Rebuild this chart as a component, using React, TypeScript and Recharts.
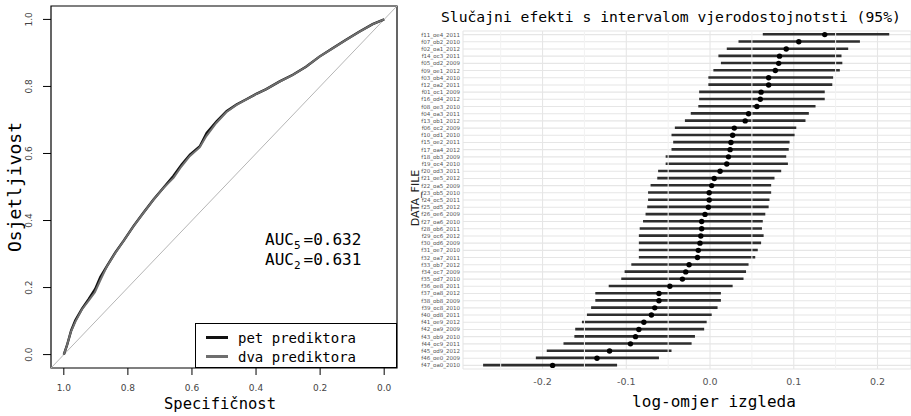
import {
  LineChart,
  Line,
  XAxis,
  YAxis,
  ReferenceLine,
  ReferenceArea,
  Legend,
  ComposedChart,
  Bar,
  CartesianGrid,
} from 'recharts';

// ROC krivulje (očitano s grafa)
const spec5 = [1.0, 0.99, 0.977, 0.964, 0.943, 0.922, 0.902, 0.886, 0.865, 0.839, 0.813, 0.782, 0.751, 0.72, 0.689, 0.658, 0.632, 0.606, 0.575, 0.554, 0.523, 0.492, 0.461, 0.43, 0.399, 0.368, 0.326, 0.285, 0.244, 0.202, 0.161, 0.119, 0.078, 0.036, 0.0];
const sens5 = [0.0, 0.028, 0.072, 0.102, 0.137, 0.166, 0.196, 0.231, 0.265, 0.305, 0.34, 0.384, 0.424, 0.463, 0.498, 0.533, 0.567, 0.597, 0.622, 0.661, 0.696, 0.726, 0.746, 0.762, 0.778, 0.792, 0.815, 0.835, 0.859, 0.889, 0.914, 0.939, 0.963, 0.986, 1.0];
const spec2 = [1.0, 0.991, 0.978, 0.963, 0.944, 0.923, 0.903, 0.885, 0.866, 0.84, 0.814, 0.783, 0.752, 0.721, 0.69, 0.657, 0.633, 0.607, 0.576, 0.555, 0.524, 0.493, 0.462, 0.431, 0.4, 0.369, 0.327, 0.286, 0.245, 0.203, 0.162, 0.12, 0.079, 0.037, 0.0];
const sens2 = [0.0, 0.025, 0.068, 0.1, 0.134, 0.16, 0.186, 0.224, 0.262, 0.302, 0.338, 0.382, 0.422, 0.461, 0.496, 0.528, 0.561, 0.592, 0.618, 0.652, 0.691, 0.723, 0.744, 0.761, 0.777, 0.791, 0.814, 0.834, 0.858, 0.888, 0.913, 0.938, 0.962, 0.985, 1.0];
const rocTicks = [0, 0.2, 0.4, 0.6, 0.8, 1.0];
const modelNames = ['pet prediktora', 'dva prediktora'];
const auc5 = '0.632';
const auc2 = '0.631';

// slučajni efekti po datoteci
const fileNames = [
  'f11_oe4_2011', 'f07_ob2_2010', 'f02_oa1_2012', 'f14_oc3_2011', 'f05_od2_2009', 'f09_oe1_2012',
  'f03_ob4_2010', 'f12_oa2_2011', 'f01_oc1_2009', 'f16_od4_2012', 'f08_oe3_2010', 'f04_oa3_2011',
  'f13_ob1_2012', 'f06_oc2_2009', 'f10_od1_2010', 'f15_oe2_2011', 'f17_oa4_2012', 'f18_ob3_2009',
  'f19_oc4_2010', 'f20_od3_2011', 'f21_oe5_2012', 'f22_oa5_2009', 'f23_ob5_2010', 'f24_oc5_2011',
  'f25_od5_2012', 'f26_oe6_2009', 'f27_oa6_2010', 'f28_ob6_2011', 'f29_oc6_2012', 'f30_od6_2009',
  'f31_oe7_2010', 'f32_oa7_2011', 'f33_ob7_2012', 'f34_oc7_2009', 'f35_od7_2010', 'f36_oe8_2011',
  'f37_oa8_2012', 'f38_ob8_2009', 'f39_oc8_2010', 'f40_od8_2011', 'f41_oe9_2012', 'f42_oa9_2009',
  'f43_ob9_2010', 'f44_oc9_2011', 'f45_od9_2012', 'f46_oe0_2009', 'f47_oa0_2010',
];
const estimates = [
  0.137, 0.106, 0.091, 0.083, 0.082, 0.078, 0.07, 0.07, 0.061, 0.06, 0.056, 0.046,
  0.042, 0.029, 0.027, 0.025, 0.024, 0.022, 0.02, 0.012, 0.005, 0.002, -0.001, -0.001,
  -0.002, -0.006, -0.01, -0.01, -0.011, -0.012, -0.014, -0.015, -0.025, -0.029, -0.033, -0.048,
  -0.061, -0.061, -0.066, -0.07, -0.079, -0.085, -0.089, -0.095, -0.12, -0.135, -0.188,
];
const lowerCI = [
  0.063, 0.034, 0.02, 0.01, 0.013, 0.004, -0.002, -0.002, -0.013, -0.013, -0.014, -0.023,
  -0.03, -0.042, -0.046, -0.044, -0.046, -0.053, -0.053, -0.062, -0.063, -0.071, -0.074, -0.074,
  -0.075, -0.077, -0.08, -0.084, -0.085, -0.085, -0.085, -0.085, -0.094, -0.102, -0.106, -0.121,
  -0.137, -0.137, -0.142, -0.147, -0.153, -0.161, -0.162, -0.175, -0.195, -0.208, -0.271,
];
const upperCI = [
  0.214, 0.179, 0.165, 0.157, 0.158, 0.155, 0.147, 0.146, 0.137, 0.137, 0.126, 0.118,
  0.114, 0.103, 0.101, 0.095, 0.094, 0.091, 0.093, 0.085, 0.077, 0.073, 0.073, 0.071,
  0.07, 0.066, 0.063, 0.062, 0.064, 0.061, 0.057, 0.054, 0.046, 0.043, 0.04, 0.027,
  0.013, 0.013, 0.009, 0.002, -0.004, -0.007, -0.018, -0.022, -0.046, -0.061, -0.111,
];
const effectTicks = [-0.2, -0.1, 0, 0.1, 0.2];
const minorTicks = [-0.25, -0.15, -0.05, 0.05, 0.15];

const MONO = '"DejaVu Sans Mono", monospace';
const SANS = '"DejaVu Sans", sans-serif';

const rocPet = spec5.map((s, i) => ({ spec: s, sens: sens5[i] }));
const rocDva = spec2.map((s, i) => ({ spec: s, sens: sens2[i] }));
const forest = fileNames.map((name, i) => ({
  name,
  est: estimates[i],
  ci: [lowerCI[i], upperCI[i]],
}));

function RocXTick({ x, y, payload }: any) {
  return (
    <text x={x} y={y + 14} textAnchor="middle" fontSize={9} fill="#444" fontFamily={SANS}>
      {payload.value.toFixed(1)}
    </text>
  );
}

function RocYTick({ x, y, payload }: any) {
  const tx = x - 9;
  return (
    <text x={tx} y={y} transform={`rotate(-90, ${tx}, ${y})`} textAnchor="middle" fontSize={9} fill="#444" fontFamily={SANS}>
      {payload.value.toFixed(1)}
    </text>
  );
}

function EffectXTick({ x, y, payload }: any) {
  return (
    <text x={x} y={y + 14} textAnchor="middle" fontSize={9.5} fill="#555" fontFamily={SANS}>
      {payload.value.toFixed(1)}
    </text>
  );
}

function FileTick({ x, y, payload }: any) {
  return (
    <text x={x} y={y + 2} textAnchor="end" fontSize={5.5} fill="#555" fontFamily={SANS}>
      {payload.value}
    </text>
  );
}

function RocLegend({ payload }: any) {
  // legend redom kao u seriji, ne abecedno
  const items = [...(payload || [])].sort((a: any, b: any) => modelNames.indexOf(a.value) - modelNames.indexOf(b.value));
  return (
    <div style={{ border: '1px solid #000', width: 202, height: 45, boxSizing: 'border-box', background: '#fff', paddingTop: 4 }}>
      {items.map((p: any) => (
        <div key={p.value} style={{ display: 'flex', alignItems: 'center', height: 19 }}>
          <span style={{ display: 'inline-block', width: 22, height: 2.5, background: p.color, marginLeft: 10, marginRight: 10 }} />
          <span style={{ fontFamily: MONO, fontSize: 14, color: '#000' }}>{p.value}</span>
        </div>
      ))}
    </div>
  );
}

export default function App() {
  return (
    <div style={{ position: 'absolute', left: 0, top: 0, width: 911, height: 416, background: '#fff', overflow: 'hidden' }}>
      <div style={{ position: 'absolute', left: 0, top: 0 }}>
        <LineChart width={400} height={416} margin={{ top: 6, right: 3, bottom: 0, left: 0 }}>
          <XAxis
            dataKey="spec"
            type="number"
            domain={[-0.04, 1.04]}
            reversed
            allowDataOverflow
            ticks={rocTicks}
            height={48}
            axisLine={false}
            tickSize={7}
            tickLine={{ stroke: '#000' }}
            tick={<RocXTick />}
          />
          <YAxis
            dataKey="sens"
            type="number"
            domain={[-0.04, 1.04]}
            allowDataOverflow
            ticks={rocTicks}
            width={51}
            axisLine={false}
            tickSize={8}
            tickLine={{ stroke: '#000' }}
            tick={<RocYTick />}
          />
          <ReferenceLine
            segment={[{ x: 1.04, y: -0.04 }, { x: -0.04, y: 1.04 }]}
            stroke="#b5b5b5"
            strokeWidth={1}
            ifOverflow="visible"
          />
          <Line data={rocPet} dataKey="sens" name={modelNames[0]} stroke="#111" strokeWidth={2.4} dot={false} isAnimationActive={false} />
          <Line data={rocDva} dataKey="sens" name={modelNames[1]} stroke="#6e6e6e" strokeWidth={2} dot={false} isAnimationActive={false} />
          <ReferenceArea x1={-0.04} x2={1.04} y1={-0.04} y2={1.04} fill="none" stroke="#000" strokeWidth={1.2} ifOverflow="visible" />
          <Legend
            layout="horizontal"
            verticalAlign="middle"
            align="center"
            wrapperStyle={{ position: 'absolute', left: 195, top: 323, width: 203, height: 46 }}
            content={<RocLegend />}
          />
        </LineChart>
      </div>

      <div style={{ position: 'absolute', left: 400, top: 0 }}>
        <ComposedChart layout="vertical" data={forest} width={511} height={416} margin={{ top: 31, right: 0, bottom: 0, left: 0 }}>
          <CartesianGrid stroke="#e6e6e6" strokeWidth={1.1} />
          {minorTicks.map((v) => (
            <ReferenceLine key={v} x={v} stroke="#f2f2f2" strokeWidth={1} />
          ))}
          <XAxis
            type="number"
            domain={[-0.295, 0.24]}
            allowDataOverflow
            ticks={effectTicks}
            height={47}
            axisLine={false}
            tickLine={false}
            tickSize={0}
            tick={<EffectXTick />}
          />
          <YAxis
            type="category"
            dataKey="name"
            width={63}
            interval={0}
            axisLine={false}
            tickLine={false}
            tickSize={0}
            tickMargin={3}
            tick={<FileTick />}
          />
          <Bar dataKey="ci" barSize={2.6} fill="#2e2e2e" isAnimationActive={false} />
          <Line dataKey="est" stroke="none" strokeWidth={0} dot={{ r: 2.7, fill: '#000', stroke: 'none' }} isAnimationActive={false} />
        </ComposedChart>
      </div>

      <svg width={911} height={416} style={{ position: 'absolute', left: 0, top: 0, pointerEvents: 'none' }}>
        <text x={21} y={187} transform="rotate(-90, 21, 187)" textAnchor="middle" fontFamily={MONO} fontSize={18} fill="#000">
          Osjetljivost
        </text>
        <text x={220} y={409} textAnchor="middle" fontFamily={MONO} fontSize={15.5} fill="#000">
          Specifičnost
        </text>
        <text x={265} y={245} fontFamily={MONO} fontSize={16} fill="#000">
          AUC<tspan fontSize={11} dy={4}>5</tspan><tspan dy={-4} dx={3}>={auc5}</tspan>
        </text>
        <text x={265} y={265} fontFamily={MONO} fontSize={16} fill="#000">
          AUC<tspan fontSize={11} dy={4}>2</tspan><tspan dy={-4} dx={3}>={auc2}</tspan>
        </text>
        <text x={441} y={22} fontFamily={MONO} fontSize={14.7} fill="#000">
          Slučajni efekti s intervalom vjerodostojnotsti (95%)
        </text>
        <text x={419} y={198} transform="rotate(-90, 419, 198)" textAnchor="middle" fontFamily={SANS} fontSize={11} fill="#222">
          DATA_FILE
        </text>
        <text x={714} y={407} textAnchor="middle" fontFamily={MONO} fontSize={16} fill="#000">
          log-omjer izgleda
        </text>
      </svg>
    </div>
  );
}
